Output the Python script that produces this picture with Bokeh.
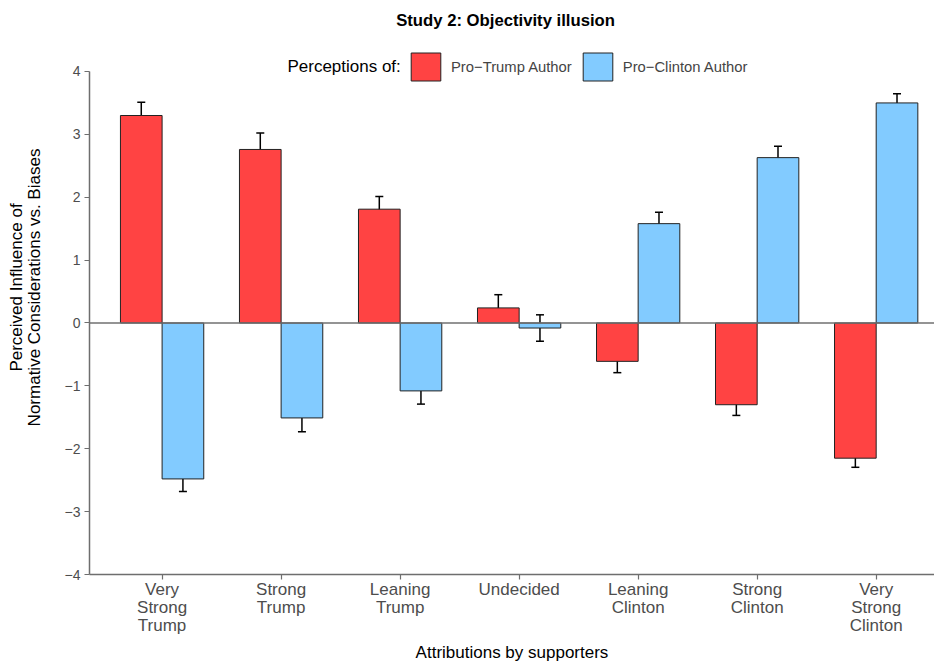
from bokeh.plotting import figure
from bokeh.models import (ColumnDataSource, Whisker, TeeHead, Span, Legend, LegendItem,
                          FixedTicker, Label)
from bokeh.embed import file_html
from bokeh.resources import INLINE

categories = ["Very\nStrong\nTrump", "Strong\nTrump", "Leaning\nTrump", "Undecided",
              "Leaning\nClinton", "Strong\nClinton", "Very\nStrong\nClinton"]
trump_vals = [3.30, 2.76, 1.81, 0.24, -0.61, -1.30, -2.15]
trump_err = [0.21, 0.26, 0.20, 0.21, 0.18, 0.17, 0.145]
clinton_vals = [-2.48, -1.51, -1.08, -0.08, 1.58, 2.63, 3.50]
clinton_err = [0.20, 0.22, 0.21, 0.21, 0.18, 0.18, 0.145]
y_ticks = [-4, -3, -2, -1, 0, 1, 2, 3, 4]

FONT = "Liberation Sans"
pos = list(range(1, len(categories) + 1))
tx = [p - 0.175 for p in pos]
cx = [p + 0.175 for p in pos]

src_t = ColumnDataSource(dict(x=tx, top=trump_vals,
                              up=[v + e for v, e in zip(trump_vals, trump_err)],
                              lo=[v - e for v, e in zip(trump_vals, trump_err)]))
src_c = ColumnDataSource(dict(x=cx, top=clinton_vals,
                              up=[v + e for v, e in zip(clinton_vals, clinton_err)],
                              lo=[v - e for v, e in zip(clinton_vals, clinton_err)]))

p = figure(width=934, height=665, x_range=(0.39, 7.49), y_range=(-4, 5.129),
           output_backend="svg", toolbar_location=None,
           min_border_left=89, min_border_top=0, min_border_right=0, min_border_bottom=91)

p.xgrid.visible = False
p.ygrid.visible = False
p.outline_line_color = None

rt = p.vbar(x="x", top="top", bottom=0, width=0.35, source=src_t,
            fill_color="#FF4343", line_color="#222222", line_width=1)
rc = p.vbar(x="x", top="top", bottom=0, width=0.35, source=src_c,
            fill_color="#82CBFF", line_color="#222222", line_width=1)

p.add_layout(Span(location=0, dimension="width", line_color="#707070", line_width=1.6))

for s in (src_t, src_c):
    w = Whisker(base="x", upper="up", lower="lo", source=s, line_color="black", line_width=1.5,
                upper_head=TeeHead(size=8, line_color="black", line_width=1.5),
                lower_head=TeeHead(size=8, line_color="black", line_width=1.5))
    p.add_layout(w)

# axes
p.xaxis.ticker = FixedTicker(ticks=pos)
p.xaxis.major_label_overrides = {k: c for k, c in zip(pos, categories)}
p.yaxis.ticker = FixedTicker(ticks=y_ticks)
p.yaxis.bounds = (-4, 4)
p.yaxis.major_label_overrides = {t: (str(t).replace("-", "\u2212")) for t in y_ticks}
for ax in (p.xaxis, p.yaxis):
    ax.axis_line_color = "#6E6E6E"
    ax.axis_line_width = 1.5
    ax.major_tick_line_color = "#6E6E6E"
    ax.major_tick_line_width = 1.2
    ax.major_tick_out = 5
    ax.major_tick_in = 0
    ax.minor_tick_line_color = None
    ax.major_label_text_color = "#4D4D4D"
    ax.major_label_text_font = FONT
    ax.axis_label_text_font = FONT
    ax.axis_label_text_font_style = "normal"
    ax.axis_label_text_color = "black"
p.xaxis.major_label_text_font_size = "17px"
p.xaxis.major_label_text_line_height = 0.95
p.yaxis.major_label_text_font_size = "14px"
p.xaxis.axis_label = "Attributions by supporters"
p.yaxis.axis_label = "Perceived Influence of\nNormative Considerations vs. Biases"
p.xaxis.axis_label_text_font_size = "17px"
p.yaxis.axis_label_text_font_size = "17px"
p.yaxis.axis_label_text_line_height = 0.93
p.xaxis.major_label_standoff = 0
p.yaxis.major_label_standoff = 4
p.xaxis.axis_label_standoff = 5
p.yaxis.axis_label_standoff = 18

# title
p.add_layout(Label(x=3.886, y=4.811, text="Study 2: Objectivity illusion",
                   text_font=FONT, text_font_size="16.7px", text_font_style="bold",
                   text_color="black", text_align="center", text_baseline="middle"))
# legend title
p.add_layout(Label(x=2.053, y=4.08, text="Perceptions of:",
                   text_font=FONT, text_font_size="17px", text_color="black",
                   text_align="left", text_baseline="middle"))

legend = Legend(items=[LegendItem(label="Pro\u2212Trump Author", renderers=[rt]),
                       LegendItem(label="Pro\u2212Clinton Author", renderers=[rc])],
                orientation="horizontal", location=(318, 490),
                label_text_font=FONT, label_text_font_size="14.8px",
                glyph_width=37, glyph_height=35, label_standoff=7, spacing=7,
                label_height=35,
                padding=0, margin=0, border_line_color=None, background_fill_alpha=0)
p.add_layout(legend, "center")

open("out.html", "w").write(file_html(p, INLINE))
